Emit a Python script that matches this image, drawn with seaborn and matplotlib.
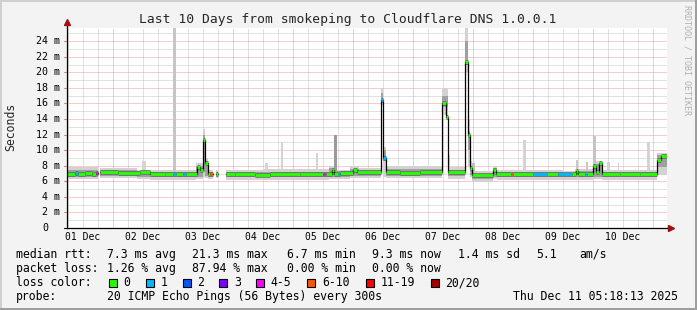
import numpy as np
import matplotlib
matplotlib.use("Agg")
import matplotlib.pyplot as plt
import seaborn as sns
from matplotlib.patches import Rectangle
from matplotlib.lines import Line2D
from matplotlib.transforms import blended_transform_factory

nan = np.nan

# ---------------- data (days since 01 Dec 00:00) ----------------
x_start, x_end = 0.238, 10.238

day_labels = ["01 Dec", "02 Dec", "03 Dec", "04 Dec", "05 Dec",
              "06 Dec", "07 Dec", "08 Dec", "09 Dec", "10 Dec"]
day_label_pos = [0.5, 1.5, 2.5, 3.5, 4.5, 5.5, 6.5, 7.5, 8.5, 9.5]

y_ticks = [0, 2, 4, 6, 8, 10, 12, 14, 16, 18, 20, 22, 24]
y_labels = ["0", "2 m", "4 m", "6 m", "8 m", "10 m", "12 m", "14 m",
            "16 m", "18 m", "20 m", "22 m", "24 m"]

# median rtt (ms), step series
med_day = [0.238, 0.372, 0.413, 0.538, 0.655, 0.713, 0.747, 0.788, 1.088, 1.455,
           1.622, 1.872, 2.000, 2.055, 2.167, 2.222, 2.405, 2.455, 2.497, 2.543,
           2.580, 2.622, 2.667, 2.713, 2.755, 2.883, 3.038, 3.372, 3.622, 4.122,
           4.510, 4.555, 4.650, 4.688, 4.750, 4.788, 5.000, 5.067, 5.467, 5.497,
           5.550, 5.788, 6.122, 6.483, 6.555, 6.593, 6.872, 6.927, 6.955, 6.983,
           7.333, 7.388, 7.638, 7.677, 8.010, 8.238, 8.422, 8.655, 8.722, 8.760,
           8.872, 8.900, 9.010, 9.055, 9.100, 9.155, 9.455, 9.788, 10.077, 10.133]
med_ms = [7.0, 7.1, 7.0, 7.1, 7.0, 7.1, nan, 7.2, 7.1, 7.15,
          7.0, 6.95, 6.9, 6.95, 6.9, 6.95, 7.8, 7.4, 11.3, 8.4,
          7.0, 7.0, nan, 7.0, nan, 6.9, 6.95, 6.85, 6.9, 6.95,
          6.9, 6.9, 7.5, 7.0, 7.0, 7.1, 7.5, 7.2, 16.5, 9.0,
          7.2, 7.1, 7.15, 16.0, 14.2, 7.2, 21.3, 11.9, 7.7, 6.75,
          7.5, 7.0, 7.0, 7.0, 7.0, 7.0, 6.9, 6.95, 7.3, 6.9,
          7.0, 7.0, 8.0, 7.2, 8.4, 6.95, 7.0, 6.95, 8.8, 9.3]
loss_cat = ["0", "1", "0", "0", "0", "4-5", "0", "0", "0", "0",
            "0", "0", "1", "0", "1", "0", "0", "0", "0", "0",
            "0", "6-10", "0", "0", "0", "0", "0", "0", "0", "0",
            "4-5", "0", "0", "0", "1", "0", "0", "0", "1", "1",
            "0", "0", "0", "0", "0", "0", "0", "0", "0", "0",
            "0", "0", "6-10", "0", "1", "0", "1", "0", "0", "0",
            "1", "0", "0", "0", "0", "0", "0", "0", "0", "0"]

# smoke (spread of the pings), step series
smoke_day = [0.238, 0.747, 0.788, 1.40, 1.62, 2.38, 2.497, 2.543, 2.58, 2.667,
             2.713, 2.755, 2.883, 3.50, 4.60, 4.70, 4.95, 5.10, 5.467, 5.497,
             5.55, 6.483, 6.593, 6.872, 6.927, 6.955, 6.983, 7.33, 7.40, 8.50,
             8.70, 9.00, 9.16, 10.077]
outer_lo = [6.3, nan, 6.4, 6.3, 6.2, 6.3, 6.6, 6.4, 6.3, nan,
            6.4, nan, 6.2, 6.2, 6.3, 6.3, 6.4, 6.4, 15.8, 6.6,
            6.4, 14.5, 6.3, 20.0, 8.0, 6.5, 5.9, 6.3, 6.2, 6.2,
            6.2, 6.3, 6.2, 6.8]
outer_hi = [7.9, nan, 7.7, 7.5, 7.4, 8.4, 12.7, 9.0, 7.5, nan,
            7.4, nan, 7.5, 7.6, 8.0, 7.5, 8.0, 7.7, 18.0, 10.4,
            8.0, 18.0, 7.8, 25.7, 14.0, 8.6, 7.3, 8.0, 7.5, 7.3,
            7.6, 8.6, 7.5, 9.7]
inner_lo = [6.6, nan, 6.7, 6.6, 6.5, 6.6, 7.2, 6.7, 6.6, nan,
            6.7, nan, 6.5, 6.5, 6.6, 6.6, 6.7, 6.7, 16.0, 8.6,
            6.7, 15.5, 6.7, 21.0, 10.0, 6.8, 6.3, 6.6, 6.5, 6.5,
            6.5, 6.6, 6.5, 7.8]
inner_hi = [7.4, nan, 7.4, 7.3, 7.2, 8.0, 12.0, 8.6, 7.2, nan,
            7.2, nan, 7.2, 7.2, 7.7, 7.3, 7.6, 7.4, 17.4, 10.0,
            7.6, 17.0, 7.5, 24.0, 12.5, 8.0, 7.0, 7.7, 7.2, 7.1,
            7.3, 8.2, 7.2, 9.4]

# isolated tall smoke columns
spk_start = [1.49, 2.00, 3.54, 3.80, 4.39, 4.69, 6.59, 6.99, 7.83, 8.72, 8.89, 9.00, 9.24, 9.42, 9.90]
spk_end = [1.56, 2.05, 3.59, 3.84, 4.42, 4.74, 6.625, 7.04, 7.89, 8.76, 8.92, 9.05, 9.29, 9.44, 9.96]
spk_top = [8.6, 25.7, 8.3, 11.0, 9.7, 11.9, 9.4, 8.3, 11.3, 8.7, 8.5, 11.8, 8.5, 8.4, 11.0]
spk_shade = ["#d4d4d4", "#c6c6c6", "#d4d4d4", "#d4d4d4", "#d4d4d4", "#9a9a9a", "#d4d4d4",
             "#c0c0c0", "#d4d4d4", "#c8c8c8", "#c8c8c8", "#c4c4c4", "#d4d4d4", "#d4d4d4", "#d4d4d4"]

loss_labels = ["0", "1", "2", "3", "4-5", "6-10", "11-19", "20/20"]
loss_colors = ["#26ff00", "#00b8ff", "#0059ff", "#7e00ff", "#ff00ff", "#ff5500", "#ff0000", "#a10000"]

legend_rows = [
    [("median rtt:", 16), ("7.3 ms avg", 107.3), ("21.3 ms max", 191.7), ("6.7 ms min", 286.7),
     ("9.3 ms now", 372.3), ("1.4 ms sd", 458.3), ("5.1", 536.7), ("am/s", 579.3)],
    [("packet loss:", 16), ("1.26 % avg", 107.3), ("87.94 % max", 191.7), ("0.00 % min", 286.7),
     ("0.00 % now", 372.3)],
    [("loss color:", 16)],
    [("probe:", 16), ("20 ICMP Echo Pings (56 Bytes) every 300s", 107.3),
     ("Thu Dec 11 05:18:13 2025", 513.3)],
]
legend_box_x = [108.7, 145.7, 182.7, 219.3, 256.0, 307.3, 365.7, 430.7]

# ---------------- figure ----------------
sns.set_theme(style="white")
plt.rcParams["font.family"] = ["DejaVu Sans Mono"]

W, H = 697, 310
fig = plt.figure(figsize=(W / 100, H / 100), dpi=100, facecolor="#f3f3f3")

# 3D-ish border
fig.add_artist(Rectangle((0, 0), 1, 2 / H, transform=fig.transFigure, color="#9e9e9e", lw=0))
fig.add_artist(Rectangle((1 - 2 / W, 0), 2 / W, 1, transform=fig.transFigure, color="#9e9e9e", lw=0))
fig.add_artist(Rectangle((0, 1 - 2 / H), 1 - 2 / W, 2 / H, transform=fig.transFigure, color="#cfcfcf", lw=0))
fig.add_artist(Rectangle((0, 2 / H), 2 / W, 1 - 4 / H, transform=fig.transFigure, color="#cfcfcf", lw=0))

ax = fig.add_axes([67 / W, (H - 228) / H, 600 / W, 200 / H])
ax.set_facecolor("white")
ax.set_xlim(x_start, x_end)
ax.set_ylim(0, 25.7)

# grid
dots = (0, (1, 1))
for k in range(1, 41):
    d = k * 0.25
    if x_start < d < x_end:
        major = (k % 4 == 0)
        ax.axvline(d, color="#f09a9a" if major else "#c4c4c4", lw=0.72, ls=dots, zorder=0.6 if major else 0.5)
for v in range(1, 26):
    major = (v % 2 == 0)
    ax.axhline(v, color="#f09a9a" if major else "#c4c4c4", lw=0.72, ls=dots, zorder=0.6 if major else 0.5)


def runs(days, end, *series):
    days = list(days) + [end]
    n = len(series[0])
    out = []
    i = 0
    while i < n:
        if np.isnan(series[0][i]):
            i += 1
            continue
        j = i
        while j + 1 < n and not np.isnan(series[0][j + 1]):
            j += 1
        x = np.array(days[i:j + 2], float)
        ys = [np.r_[np.asarray(s[i:j + 1], float), s[j]] for s in series]
        out.append((x, ys))
        i = j + 1
    return out


# smoke
for x, (lo, hi) in runs(smoke_day, x_end, outer_lo, outer_hi):
    ax.fill_between(x, lo, hi, step="post", color="#d2d2d2", lw=0, zorder=1.0)
ax.bar(spk_start, np.array(spk_top) - 6.5, bottom=6.5,
       width=np.array(spk_end) - np.array(spk_start), align="edge",
       color=spk_shade, lw=0, zorder=1.05)
for x, (lo, hi) in runs(smoke_day, x_end, inner_lo, inner_hi):
    ax.fill_between(x, lo, hi, step="post", color="#a0a0a0", lw=0, zorder=1.2)

# median: halo, black step line, loss-coloured segments
ends = med_day[1:] + [x_end]
col_of = dict(zip(loss_labels, loss_colors))
for d0, d1, v in zip(med_day, ends, med_ms):
    if not np.isnan(v):
        ax.hlines(v, d0, d1, color="#6a6a6a", lw=3.3, zorder=1.9)
for x, (y,) in runs(med_day, x_end, med_ms):
    sns.lineplot(x=x, y=y, ax=ax, color="black", lw=0.9, drawstyle="steps-post",
                 estimator=None, sort=False, zorder=2.2)
for d0, d1, v, c in zip(med_day, ends, med_ms, loss_cat):
    if not np.isnan(v):
        ax.hlines(v, d0, d1, color=col_of[c], lw=2.1, zorder=2.5)

# axes cosmetics
for s in ["top", "right"]:
    ax.spines[s].set_visible(False)
for s in ["left", "bottom"]:
    ax.spines[s].set_color("black")
    ax.spines[s].set_linewidth(0.9)
    ax.spines[s].set_zorder(3)
ax.add_line(Line2D([0, 0], [1, 1.03], transform=ax.transAxes, color="black", lw=0.9, clip_on=False))
ax.add_line(Line2D([1, 1.006], [0, 0], transform=ax.transAxes, color="black", lw=0.9, clip_on=False))
ax.plot([0], [1.03], marker="^", ms=4.5, color="#a01010", transform=ax.transAxes, clip_on=False)
ax.plot([1.006], [0], marker=">", ms=4.5, color="#a01010", transform=ax.transAxes, clip_on=False)

ax.set_xticks(day_label_pos)
ax.set_xticklabels(day_labels)
ax.tick_params(axis="x", length=0, pad=3.2, labelsize=7, colors="black")
ax.set_yticks([])
ax.set_xlabel("")
ax.set_ylabel("")

tr = blended_transform_factory(ax.transAxes, ax.transData)
for v, lab in zip(y_ticks, y_labels):
    xr = -7 / 600 if v else -19 / 600
    ax.text(xr, v, lab, transform=tr, ha="right", va="center", fontsize=7.2, color="black")
    ax.add_line(Line2D([-3 / 600, 0], [v, v], transform=tr, color="#e08080" if v else "black",
                       lw=0.8, clip_on=False))

fig.text(11 / W, 1 - 127 / H, "Seconds", rotation=90, ha="center", va="center", fontsize=8.3)
fig.text(347.5 / W, 1 - 19.5 / H, "Last 10 Days from smokeping to Cloudflare DNS 1.0.0.1",
         ha="center", va="center", fontsize=9.4)
fig.text(687 / W, 1 - 60 / H, "RRDTOOL / TOBI OETIKER", rotation=270, ha="center", va="center",
         fontsize=6, color="#b0b0b0")

row_y = [254.3, 268.3, 282.6, 296.5]
for row, yy in zip(legend_rows, row_y):
    for txt, xx in row:
        fig.text(xx / W, 1 - yy / H, txt, ha="left", va="center", fontsize=8.3, color="black")
for bx, lab, c in zip(legend_box_x, loss_labels, loss_colors):
    fig.add_artist(Rectangle((bx / W, 1 - 286.7 / H), 8 / W, 8 / H, transform=fig.transFigure,
                             facecolor=c, edgecolor="black", lw=0.8))
    fig.text((bx + 14.7) / W, 1 - 282.6 / H, lab, ha="left", va="center", fontsize=8.3, color="black")

fig.savefig("out.png", dpi=100, facecolor=fig.get_facecolor())
